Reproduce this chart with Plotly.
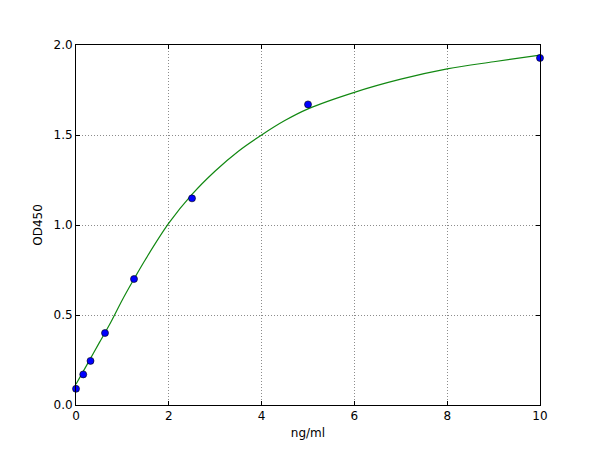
import plotly.graph_objects as go

# Standard points (concentration vs OD)
conc = [0, 0.156, 0.3125, 0.625, 1.25, 2.5, 5, 10]
od = [0.09, 0.17, 0.245, 0.40, 0.70, 1.148, 1.67, 1.928]

# Fitted curve
fit_x = [0, 0.25, 0.5, 0.75, 1, 1.25, 1.5, 2, 2.5, 3, 3.5, 4, 4.5, 5, 6, 7, 8, 9, 10]
fit_y = [0.115, 0.23, 0.345, 0.46, 0.585, 0.70, 0.81, 1.01, 1.17, 1.30, 1.41, 1.50,
         1.58, 1.645, 1.737, 1.81, 1.867, 1.907, 1.944]

x_ticks = [0, 2, 4, 6, 8, 10]
y_ticks = [0.0, 0.5, 1.0, 1.5, 2.0]

fig = go.Figure()

fig.add_trace(go.Scatter(x=fit_x, y=fit_y, mode="lines", line=dict(color="#118811", width=1.2, shape="spline"),
                         cliponaxis=True))
fig.add_trace(go.Scatter(x=conc, y=od, mode="markers",
                         marker=dict(color="#0000ff", size=7, line=dict(color="black", width=0.6)),
                         cliponaxis=False))

axis_style = dict(showline=True, linecolor="black", linewidth=1, mirror="allticks",
                  ticks="inside", ticklen=4, tickcolor="black",
                  showgrid=True, gridcolor="#8c8c8c", griddash="1px,2px", gridwidth=1,
                  zeroline=False, tickfont=dict(family="DejaVu Sans", size=12, color="black"))

fig.update_xaxes(range=[0, 10], tickvals=x_ticks, title=dict(text="ng/ml", standoff=6,
                 font=dict(family="DejaVu Sans", size=12, color="black")), **axis_style)
fig.update_yaxes(range=[0, 2], tickvals=y_ticks, tickformat=".1f", title=dict(text="OD450", standoff=8,
                 font=dict(family="DejaVu Sans", size=12, color="black")), **axis_style)

# page puts the plot ~7px in from the corner, so margins are shifted to compensate
fig.update_layout(width=600, height=450, margin=dict(l=68, r=68, t=37, b=53),
                  paper_bgcolor="white", plot_bgcolor="white", showlegend=False)

fig.write_html("out.html")
